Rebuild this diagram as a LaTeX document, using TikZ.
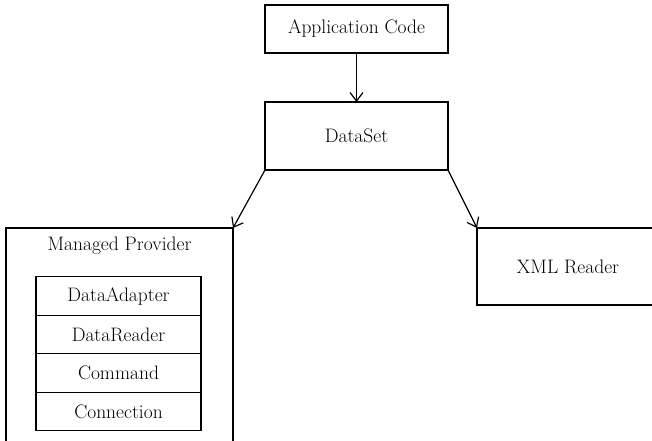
\documentclass[tikz,border=0pt]{standalone}
\usepackage{tikz}
\usetikzlibrary{arrows.meta, positioning}

\begin{document}
\begin{tikzpicture}[x=1pt, y=-1pt,
      box/.style={draw, line width=1.2pt, font=\fontsize{19.5}{22}\selectfont,
                  inner sep=0pt, outer sep=0pt},
      rowbox/.style={box, minimum width=165pt, minimum height=38.5pt},
      link/.style={line width=1.2pt, -{Straight Barb[length=8.5pt, width=13pt]}}]
      \clip (0,0) rectangle (652,440);
      \useasboundingbox (0,0) rectangle (652,440);
      \node[box, minimum width=183pt, minimum height=48pt] (app) at (356.5,29) {Application Code};
      \node[box, minimum width=183pt, minimum height=68pt] (dataset) at (356.5,136) {DataSet};
      \node[box, minimum width=227pt, minimum height=240pt, anchor=north west] (provider) at (6,228) {};
      \node[font=\fontsize{19.5}{22}\selectfont] (providertitle) at (119.5,246) {Managed Provider};
      \node[rowbox] (adapter) at (118.5,296) {DataAdapter};
      \node[rowbox, below=0pt of adapter] (reader) {DataReader};
      \node[rowbox, below=0pt of reader] (command) {Command};
      \node[rowbox, below=0pt of command] (connection) {Connection};
      \node[box, minimum width=182pt, minimum height=77pt, anchor=north west] (xml) at (477,228) {XML Reader};
      \draw[link] (app.south) -- (dataset.north);
      \draw[link] (dataset.south west) -- (provider.north east);
      \draw[link] (dataset.south east) -- (xml.north west);
\end{tikzpicture}
\end{document}
